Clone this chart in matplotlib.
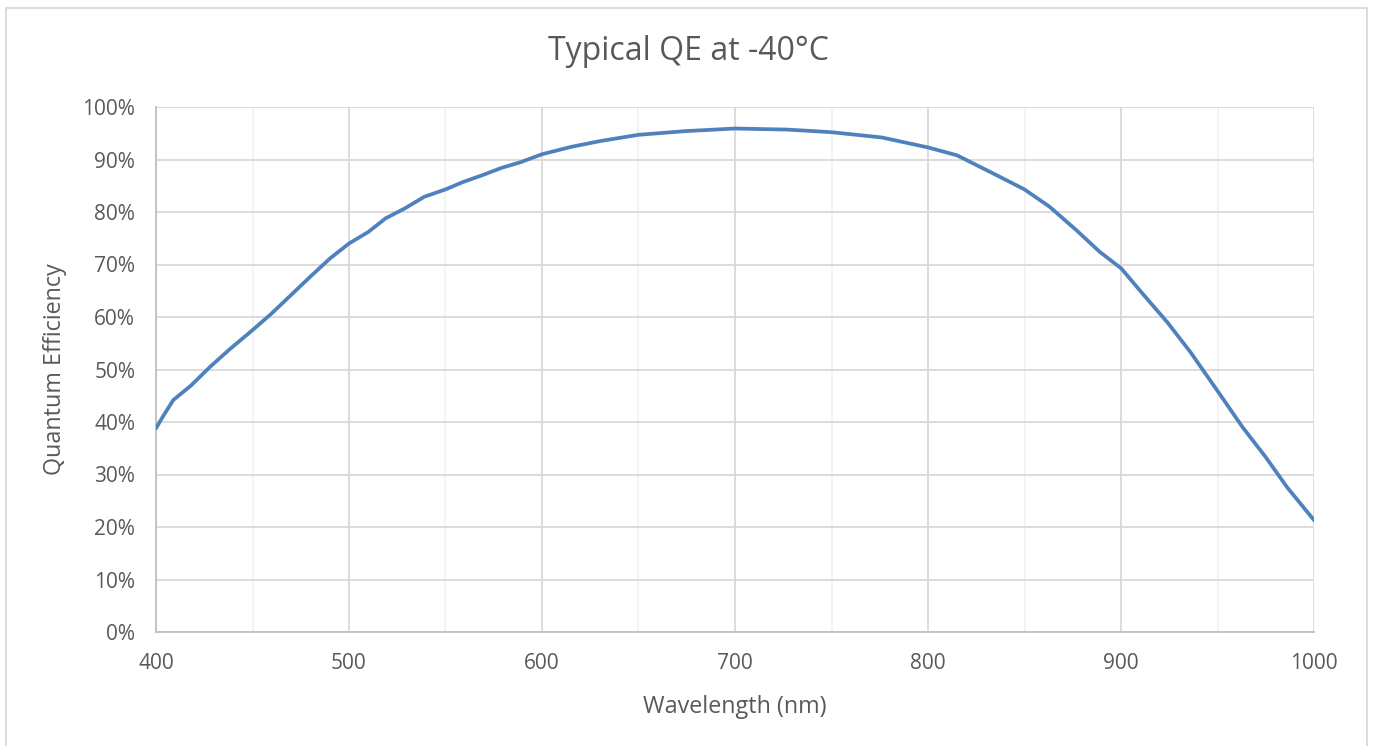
import matplotlib
matplotlib.use("Agg")
import matplotlib.pyplot as plt
from matplotlib.patches import Rectangle
from matplotlib.ticker import MultipleLocator, FuncFormatter

# values
WAVELENGTH_NM = [400, 404, 409, 418, 428, 438, 450, 460, 470, 480, 490, 500, 510,
                 519, 529, 539, 550, 559, 569, 579, 589, 600, 615, 630, 650, 674,
                 700, 727, 750, 776, 800, 815, 834, 850, 863, 877, 889, 900, 912,
                 924, 936, 951, 963, 975, 986, 1000]
QE_PERCENT = [38.8, 41.3, 44.2, 46.9, 50.5, 53.8, 57.5, 60.7, 64.2, 67.7, 71.1, 74.0, 76.2,
              78.8, 80.7, 82.9, 84.3, 85.7, 87.0, 88.4, 89.5, 91.0, 92.4, 93.5, 94.7, 95.4,
              95.9, 95.7, 95.2, 94.2, 92.3, 90.8, 87.3, 84.3, 81.0, 76.5, 72.4, 69.3, 64.1,
              59.0, 53.3, 45.4, 39.0, 33.3, 27.6, 21.3]

TEXT = "#595959"
plt.rcParams["font.family"] = ["Open Sans", "DejaVu Sans"]

fig = plt.figure(figsize=(13.73, 7.46), dpi=100)
ax = fig.add_axes([156 / 1373, 1 - 632 / 746, (1314 - 156) / 1373, (632 - 107) / 746])

ax.plot(WAVELENGTH_NM, QE_PERCENT, color="#4F81BD", linewidth=2.7,
        solid_joinstyle="round", solid_capstyle="round", zorder=3)

ax.set_xlim(400, 1000)
ax.set_ylim(0, 100)
ax.xaxis.set_major_locator(MultipleLocator(100))
ax.xaxis.set_minor_locator(MultipleLocator(50))
ax.yaxis.set_major_locator(MultipleLocator(10))
ax.yaxis.set_major_formatter(FuncFormatter(lambda v, _: f"{v:.0f}%"))

ax.grid(axis="x", which="minor", color="#f0f0f0", linewidth=1.1, zorder=0)
ax.grid(axis="x", which="major", color="#d9d9d9", linewidth=1.3, zorder=1)
ax.grid(axis="y", which="major", color="#d9d9d9", linewidth=1.3, zorder=1)

for side in ("top", "right"):
    ax.spines[side].set_visible(False)
for side in ("left", "bottom"):
    ax.spines[side].set_color("#bfbfbf")
    ax.spines[side].set_linewidth(1.3)

ax.tick_params(which="both", length=0, labelsize=15, labelcolor=TEXT)
ax.tick_params(axis="x", pad=15)
ax.tick_params(axis="y", pad=15)

ax.set_xlabel("Wavelength (nm)", fontsize=16.8, color=TEXT, labelpad=15)
ax.set_ylabel("Quantum Efficiency", fontsize=16.8, color=TEXT, labelpad=11)
fig.text(688 / 1373, 1 - 52 / 746, "Typical QE at -40°C", fontsize=23, color=TEXT,
         ha="center", va="center")

fig.patches.append(Rectangle((6 / 1373, -0.01), (1367 - 6) / 1373, 1 - 8 / 746 + 0.01,
                             transform=fig.transFigure, fill=False,
                             edgecolor="#d9d9d9", linewidth=1.3))

fig.savefig("out.png", dpi=100)
